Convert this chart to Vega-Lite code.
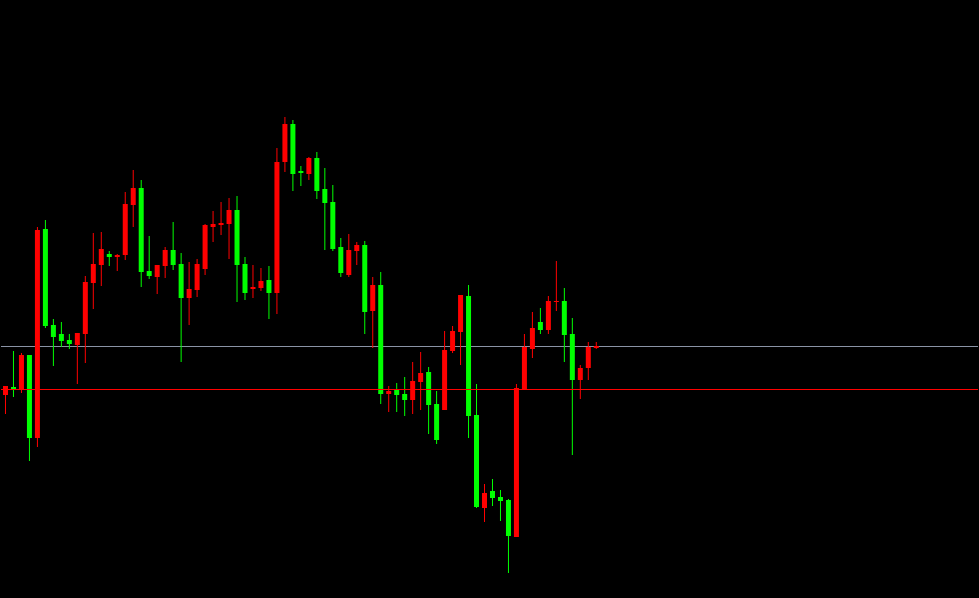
{
  "$schema": "https://vega.github.io/schema/vega-lite/v6.json",
  "autosize": {"type": "fit", "contains": "padding"},
  "width": 979,
  "height": 598,
  "padding": 0,
  "background": "#000000",
  "config": {"view": {"stroke": null, "fill": "#000000"}, "scale": {"continuousPadding": 0}},
  "datasets": {
    "candles": [
      {"i":0,"o":203,"c":212,"h":212,"l":184},
      {"i":1,"o":211,"c":209,"h":247,"l":201},
      {"i":2,"o":209,"c":243,"h":245,"l":205},
      {"i":3,"o":243,"c":160,"h":243,"l":137},
      {"i":4,"o":160,"c":368,"h":371,"l":151},
      {"i":5,"o":369,"c":272,"h":378,"l":270},
      {"i":6,"o":273,"c":261,"h":279,"l":232},
      {"i":7,"o":264,"c":257,"h":276,"l":251},
      {"i":8,"o":258,"c":254,"h":264,"l":249},
      {"i":9,"o":253,"c":265,"h":265,"l":214},
      {"i":10,"o":264,"c":316,"h":322,"l":235},
      {"i":11,"o":315,"c":334,"h":365,"l":289},
      {"i":12,"o":333,"c":349,"h":366,"l":312},
      {"i":13,"o":344,"c":341,"h":347,"l":332},
      {"i":14,"o":341,"c":343,"h":344,"l":327},
      {"i":15,"o":343,"c":394,"h":406,"l":338},
      {"i":16,"o":393,"c":410,"h":428,"l":371},
      {"i":17,"o":410,"c":326,"h":418,"l":311},
      {"i":18,"o":327,"c":322,"h":362,"l":319},
      {"i":19,"o":321,"c":333,"h":333,"l":304},
      {"i":20,"o":332,"c":348,"h":351,"l":320},
      {"i":21,"o":348,"c":333,"h":376,"l":328},
      {"i":22,"o":334,"c":300,"h":345,"l":236},
      {"i":23,"o":300,"c":309,"h":336,"l":273},
      {"i":24,"o":308,"c":334,"h":339,"l":301},
      {"i":25,"o":329,"c":373,"h":374,"l":323},
      {"i":26,"o":371,"c":374,"h":387,"l":356},
      {"i":27,"o":373,"c":375,"h":396,"l":363},
      {"i":28,"o":374,"c":388,"h":400,"l":339},
      {"i":29,"o":388,"c":333,"h":402,"l":296},
      {"i":30,"o":334,"c":305,"h":341,"l":298},
      {"i":31,"o":309,"c":311,"h":333,"l":300},
      {"i":32,"o":310,"c":317,"h":330,"l":307},
      {"i":33,"o":318,"c":305,"h":332,"l":279},
      {"i":34,"o":305,"c":436,"h":450,"l":284},
      {"i":35,"o":436,"c":474,"h":481,"l":426},
      {"i":36,"o":474,"c":424,"h":478,"l":407},
      {"i":37,"o":427,"c":425,"h":432,"l":412},
      {"i":38,"o":424,"c":440,"h":441,"l":418},
      {"i":39,"o":440,"c":407,"h":446,"l":399},
      {"i":40,"o":409,"c":395,"h":430,"l":348},
      {"i":41,"o":396,"c":349,"h":413,"l":347},
      {"i":42,"o":351,"c":325,"h":360,"l":321},
      {"i":43,"o":323,"c":348,"h":364,"l":321},
      {"i":44,"o":347,"c":353,"h":356,"l":333},
      {"i":45,"o":353,"c":286,"h":357,"l":264},
      {"i":46,"o":287,"c":313,"h":321,"l":250},
      {"i":47,"o":313,"c":204,"h":326,"l":194},
      {"i":48,"o":204,"c":207,"h":212,"l":186},
      {"i":49,"o":208,"c":203,"h":215,"l":186},
      {"i":50,"o":204,"c":198,"h":221,"l":182},
      {"i":51,"o":198,"c":217,"h":236,"l":184},
      {"i":52,"o":216,"c":225,"h":246,"l":188},
      {"i":53,"o":226,"c":193,"h":231,"l":164},
      {"i":54,"o":194,"c":158,"h":207,"l":154},
      {"i":55,"o":188,"c":248,"h":267,"l":188},
      {"i":56,"o":247,"c":267,"h":272,"l":245},
      {"i":57,"o":266,"c":303,"h":303,"l":233},
      {"i":58,"o":302,"c":182,"h":313,"l":160},
      {"i":59,"o":183,"c":91,"h":214,"l":90},
      {"i":60,"o":90,"c":105,"h":114,"l":76},
      {"i":61,"o":107,"c":100,"h":119,"l":92},
      {"i":62,"o":101,"c":97,"h":108,"l":77},
      {"i":63,"o":98,"c":62,"h":99,"l":25},
      {"i":64,"o":61,"c":210,"h":214,"l":61},
      {"i":65,"o":209,"c":251,"h":264,"l":209},
      {"i":66,"o":249,"c":270,"h":286,"l":240},
      {"i":67,"o":276,"c":268,"h":290,"l":264},
      {"i":68,"o":268,"c":297,"h":302,"l":264},
      {"i":69,"o":296,"c":297,"h":337,"l":287},
      {"i":70,"o":297,"c":263,"h":310,"l":236},
      {"i":71,"o":264,"c":218,"h":280,"l":143},
      {"i":72,"o":218,"c":230,"h":233,"l":199},
      {"i":73,"o":230,"c":251,"h":256,"l":218},
      {"i":74,"o":250,"c":252,"h":256,"l":249}
    ],
    "levels": [
      {"name": "upper", "v": 251.5},
      {"name": "lower", "v": 208.5}
    ]
  },
  "layer": [
    {
      "data": {"name": "levels"},
      "transform": [{"filter": "datum.name === 'upper'"}],
      "mark": {"type": "rule", "color": "#8a93a5", "strokeWidth": 1},
      "encoding": {
        "y": {"field": "v", "type": "quantitative", "scale": {"domain": [0, 598], "nice": false, "zero": false}, "axis": null}
      }
    },
    {
      "data": {"name": "candles"},
      "mark": {"type": "rule", "strokeWidth": 1},
      "encoding": {
        "x": {"field": "i", "type": "quantitative", "scale": {"domain": [-0.5625, 121.8125], "nice": false, "zero": false, "padding": 0}, "axis": null},
        "y": {"field": "l", "type": "quantitative", "scale": {"domain": [0, 598], "nice": false, "zero": false}, "axis": null},
        "y2": {"field": "h"},
        "color": {"condition": {"test": "datum.c >= datum.o", "value": "#ff0000"}, "value": "#00ff00"}
      }
    },
    {
      "data": {"name": "candles"},
      "mark": {"type": "bar", "width": 5, "orient": "vertical"},
      "encoding": {
        "x": {"field": "i", "type": "quantitative", "scale": {"domain": [-0.5625, 121.8125], "nice": false, "zero": false, "padding": 0}, "axis": null},
        "y": {"field": "o", "type": "quantitative", "scale": {"domain": [0, 598], "nice": false, "zero": false}, "axis": null},
        "y2": {"field": "c"},
        "color": {"condition": {"test": "datum.c >= datum.o", "value": "#ff0000"}, "value": "#00ff00"}
      }
    },
    {
      "data": {"name": "levels"},
      "transform": [{"filter": "datum.name === 'lower'"}],
      "mark": {"type": "rule", "color": "#ff0000", "strokeWidth": 1},
      "encoding": {
        "y": {"field": "v", "type": "quantitative", "scale": {"domain": [0, 598], "nice": false, "zero": false}, "axis": null}
      }
    }
  ]
}
